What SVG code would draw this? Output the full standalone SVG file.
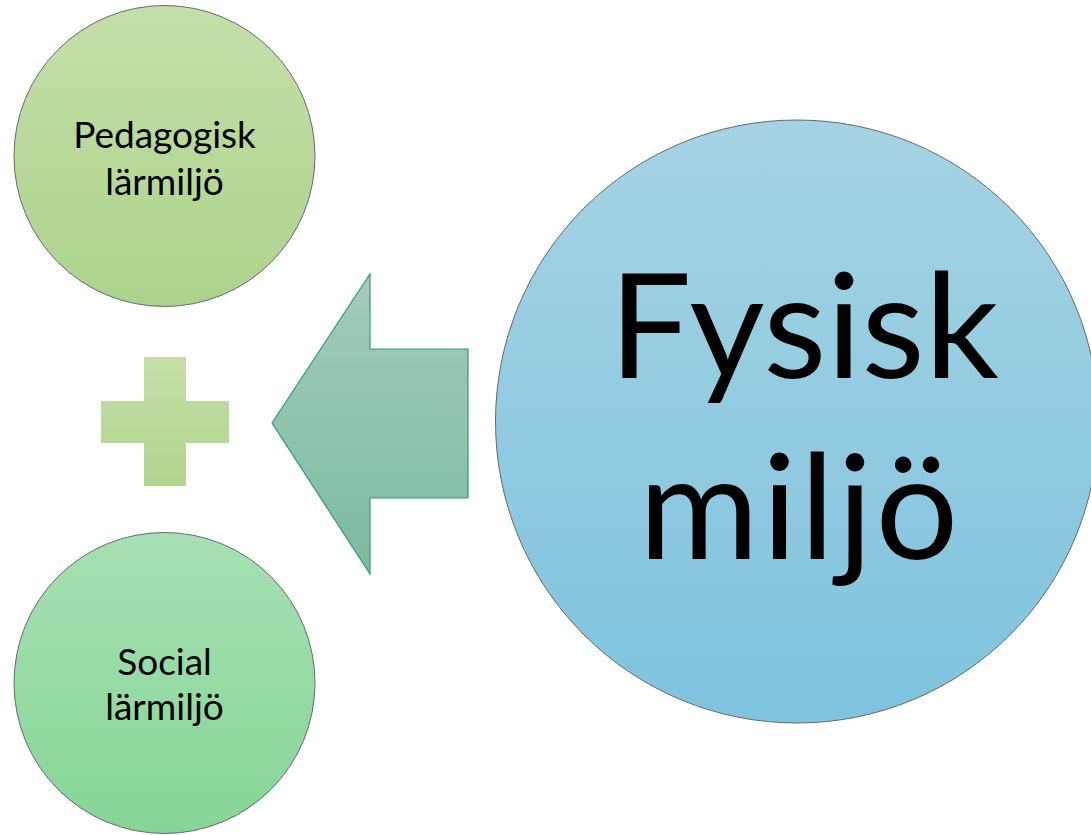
<svg xmlns="http://www.w3.org/2000/svg" width="1091" height="835" viewBox="0 0 1091 835">
<defs>
<linearGradient id="gTop" x1="0" y1="0" x2="0" y2="1"><stop offset="0" stop-color="#c4dfaa"/><stop offset="1" stop-color="#acd38a"/></linearGradient>
<linearGradient id="gBot" x1="0" y1="0" x2="0" y2="1"><stop offset="0" stop-color="#a7e0b3"/><stop offset="1" stop-color="#86d596"/></linearGradient>
<linearGradient id="gBig" x1="0" y1="0" x2="0" y2="1"><stop offset="0" stop-color="#a5d3e3"/><stop offset="1" stop-color="#7fc3de"/></linearGradient>
<linearGradient id="gPlus" x1="0" y1="0" x2="0" y2="1"><stop offset="0" stop-color="#c4dea8"/><stop offset="1" stop-color="#b1d58e"/></linearGradient>
<linearGradient id="gArrow" x1="0" y1="0" x2="0" y2="1"><stop offset="0" stop-color="#a2ccba"/><stop offset="1" stop-color="#7dbaa0"/></linearGradient>
</defs>
<style>
.circ{stroke:#5f6b6f;stroke-width:1}
.lbl{font-family:Lato,"Liberation Sans",sans-serif;fill:#000;text-anchor:middle}
.sm{font-size:37px}
.big{font-size:146px}
</style>
<rect width="1091" height="835" fill="#fff"/>
<g id="connectors">
<polygon id="arrow" points="272,423 370,274 370,349 468,349 468,498 370,498 370,574" fill="url(#gArrow)" stroke="#2e9b78" stroke-width="1.2"/>
</g>
<g id="node-pedagogisk">
<circle class="circ" cx="164.5" cy="156" r="150.5" fill="url(#gTop)"/>
<text class="lbl sm" x="164.5" y="148">Pedagogisk</text>
<text class="lbl sm" x="164.5" y="195">lärmiljö</text>
</g>
<g id="node-plus">
<polygon points="144,357 186,357 186,401 229,401 229,443 186,443 186,486 144,486 144,443 101,443 101,401 144,401" fill="url(#gPlus)"/>
</g>
<g id="node-social">
<circle class="circ" cx="164.5" cy="683" r="150.5" fill="url(#gBot)"/>
<text class="lbl sm" x="164.5" y="675">Social</text>
<text class="lbl sm" x="164.5" y="720">lärmiljö</text>
</g>
<g id="node-fysisk">
<circle class="circ" cx="797" cy="421.5" r="301.5" fill="url(#gBig)"/>
<text class="lbl big" x="804" y="378">Fysisk</text>
<text class="lbl big" x="800" y="559" letter-spacing="3">miljö</text>
</g>
</svg>
